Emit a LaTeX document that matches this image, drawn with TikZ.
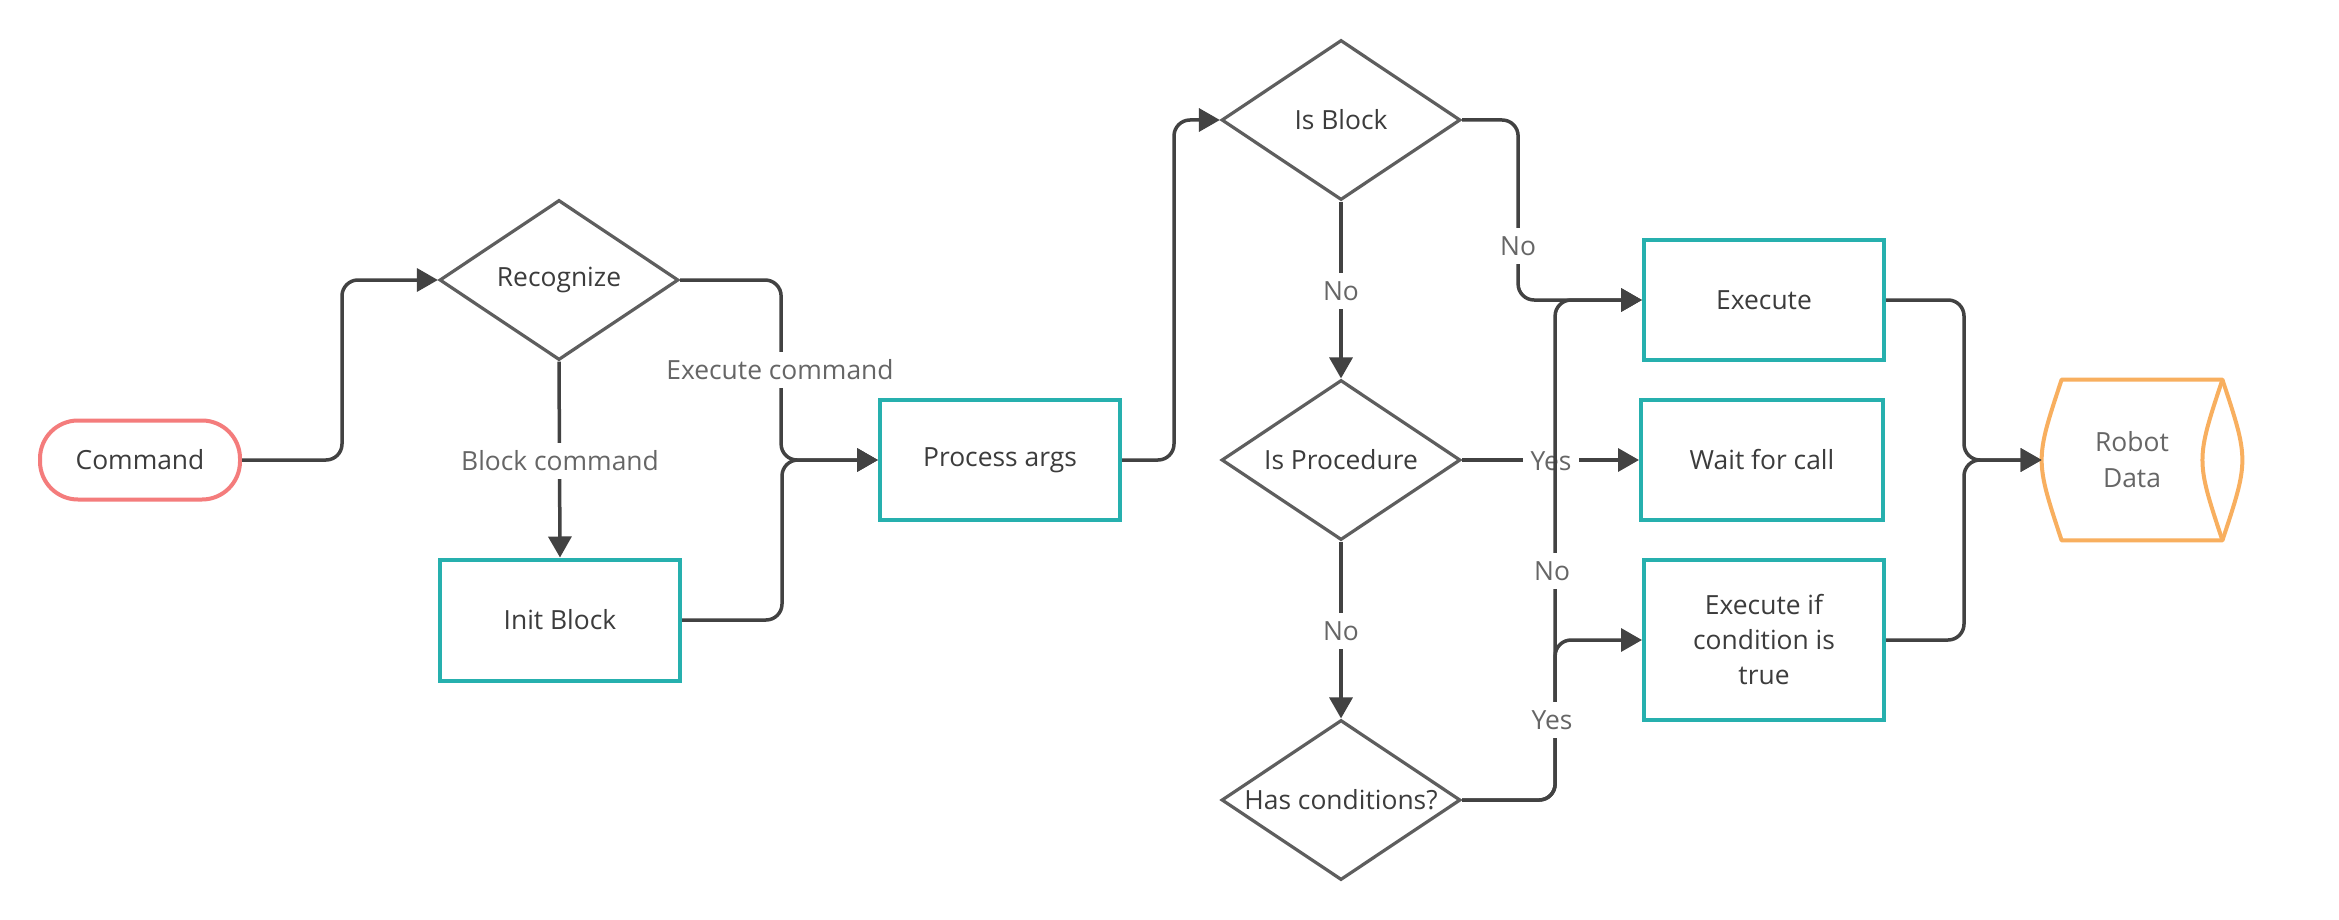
\documentclass[tikz,border=0pt]{standalone}
\usepackage{fontspec}
\setmainfont{Open Sans}
\usetikzlibrary{arrows.meta,shapes.geometric}
\definecolor{tealc}{HTML}{26B0AE}
\definecolor{salmonc}{HTML}{F47C7C}
\definecolor{orangec}{HTML}{F8AF5F}
\definecolor{linec}{HTML}{424242}
\definecolor{diac}{HTML}{5E5E5E}
\definecolor{txtc}{HTML}{3C3C3C}
\definecolor{lblc}{HTML}{666666}
\begin{document}
\begin{tikzpicture}[x=0.5pt,y=-0.5pt,
  font=\fontsize{13.2}{17.5}\selectfont,
  box/.style={draw=tealc,line width=2pt,minimum width=120pt,minimum height=60pt,text=txtc,align=center,inner sep=0pt},
  dia/.style={diamond,draw=diac,line width=1.6pt,minimum width=119.5pt,minimum height=80pt,inner sep=0pt,text=txtc},
  conn/.style={draw=linec,line width=1.75pt,rounded corners=8pt},
  arr/.style={conn,-{Triangle[length=10.5pt,width=11.5pt]}},
  lab/.style={fill=white,text=lblc,inner sep=4pt},
]
\fill[white] (0,0) rectangle (2339,920);
\useasboundingbox (0,0) rectangle (2339,920);

% nodes
\node[draw=salmonc,line width=2pt,rounded corners=19pt,minimum width=100pt,minimum height=39.5pt,text=txtc] (cmd) at (140,460) {Command};
\node[dia] (rec) at (559,280) {\makebox[0pt]{Recognize}};
\node[box,minimum height=60.5pt] (init) at (560,620) {Init Block};
\node[box] (pa) at (1000,460) {Process args};
\node[dia] (isb) at (1341,120) {\makebox[0pt]{Is Block}};
\node[dia] (isp) at (1341,460) {\makebox[0pt]{Is Procedure}};
\node[dia] (hc) at (1341,800) {\makebox[0pt]{Has conditions?}};
\node[box] (ex) at (1764,300) {Execute};
\node[box,minimum width=121pt] (wait) at (1762,460) {Wait for call};
\node[box,minimum height=80pt] (exif) at (1764,640) {Execute if\\condition is\\true};
\node[minimum width=70pt,minimum height=80pt,inner sep=0pt,text=lblc,align=center,font=\fontsize{13.2}{18}\selectfont] (rd) at (2132,460) {Robot\\Data};
\draw[draw=orangec,line width=2pt,line join=round]
  (rd.north west) -- ([xshift=10pt]rd.north east)
  .. controls ([xshift=23.3pt]rd.east) .. ([xshift=10pt]rd.south east)
  -- (rd.south west)
  .. controls ([xshift=-13.3pt]rd.west) .. (rd.north west) -- cycle;
\draw[draw=orangec,line width=2pt] ([xshift=10pt]rd.north east)
  .. controls ([xshift=-3.3pt]rd.east) .. ([xshift=10pt]rd.south east);

% connectors
\draw[arr] (cmd.east) -- ++(100,0) |- (rec.west);
\draw[arr] (rec.east) -- ++(101,0) |- (pa.west);
\draw[arr] (init.east) -- ++(100,0) |- (pa.west);
\draw[arr] (rec.south) -- (init.north);
\draw[arr] (pa.east) -- ++(52,0) |- (isb.west);
\draw[arr] (isb.east) -- ++(56,0) |- (ex.west);
\draw[arr] (isb.south) -- (isp.north);
\draw[arr] (isp.east) -- (wait.west);
\draw[arr] (isp.south) -- (hc.north);
\draw[arr] (ex.east) -- ++(78,0) |- ([xshift=-10pt]rd.west);
\draw[arr] (exif.east) -- ++(78,0) |- ([xshift=-10pt]rd.west);

\node[lab] (l1) at (780,370) {Execute command};
\node[lab] (l2) at (560,461) {Block command};
\node[lab] (l3) at (1518,246) {No};
\node[lab] (l4) at (1341,291) {No};
\node[lab] (l5) at (1551,461) {Yes};
\node[lab] (l6) at (1341,631) {No};

\draw[arr] (hc.east) -- ++(93,0) |- (exif.west);
\draw[arr] (hc.east) -- ++(93,0) |- (ex.west);
\node[lab] (l7) at (1552,571) {No};
\node[lab] (l8) at (1552,720) {Yes};
\end{tikzpicture}
\end{document}
